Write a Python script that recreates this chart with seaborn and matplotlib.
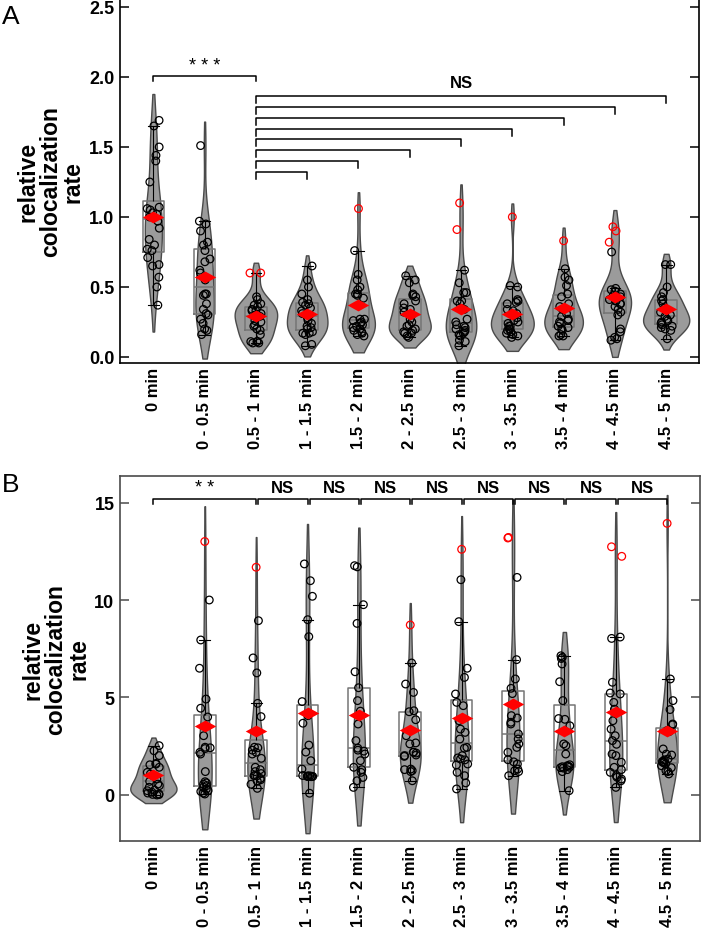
import numpy as np
import pandas as pd
import seaborn as sns
import matplotlib.pyplot as plt

cats = ['0 min', '0 - 0.5 min', '0.5 - 1 min', '1 - 1.5 min', '1.5 - 2 min',
        '2 - 2.5 min', '2.5 - 3 min', '3 - 3.5 min', '3.5 - 4 min',
        '4 - 4.5 min', '4.5 - 5 min']

# panel A: black circles per interval, red circles (flagged points), red diamonds (means)
a_black = [
    [1.69, 1.65, 1.50, 1.44, 1.40, 1.25, 1.07, 1.06, 1.05, 1.03, 1.02, 1.00, 0.97, 0.92,
     0.84, 0.80, 0.77, 0.76, 0.71, 0.66, 0.65, 0.57, 0.50, 0.37],
    [1.51, 0.97, 0.95, 0.90, 0.82, 0.80, 0.76, 0.70, 0.68, 0.62, 0.60, 0.55, 0.45, 0.45,
     0.44, 0.38, 0.34, 0.31, 0.30, 0.27, 0.24, 0.20, 0.19, 0.16],
    [0.43, 0.41, 0.38, 0.37, 0.36, 0.34, 0.33, 0.33, 0.31, 0.30, 0.29, 0.26, 0.25, 0.23,
     0.22, 0.20, 0.19, 0.16, 0.11, 0.11, 0.11, 0.10, 0.10],
    [0.65, 0.55, 0.50, 0.45, 0.41, 0.39, 0.38, 0.37, 0.35, 0.33, 0.31, 0.30, 0.28, 0.26,
     0.24, 0.22, 0.21, 0.20, 0.18, 0.17, 0.17, 0.16, 0.09, 0.08],
    [0.76, 0.59, 0.55, 0.50, 0.48, 0.45, 0.45, 0.44, 0.42, 0.27, 0.27, 0.26, 0.25, 0.24,
     0.23, 0.22, 0.21, 0.20, 0.19, 0.18, 0.17, 0.16, 0.15],
    [0.58, 0.55, 0.53, 0.45, 0.44, 0.43, 0.40, 0.38, 0.35, 0.34, 0.32, 0.30, 0.27, 0.25,
     0.23, 0.22, 0.20, 0.19, 0.18, 0.17, 0.17, 0.15, 0.14],
    [0.62, 0.53, 0.46, 0.46, 0.40, 0.40, 0.38, 0.34, 0.27, 0.25, 0.23, 0.22, 0.21, 0.20,
     0.19, 0.18, 0.17, 0.16, 0.15, 0.12, 0.11, 0.08],
    [0.51, 0.50, 0.41, 0.40, 0.39, 0.38, 0.34, 0.33, 0.31, 0.28, 0.26, 0.25, 0.24, 0.22,
     0.22, 0.20, 0.20, 0.19, 0.18, 0.17, 0.16, 0.15, 0.14],
    [0.63, 0.57, 0.55, 0.51, 0.45, 0.43, 0.38, 0.36, 0.34, 0.31, 0.29, 0.27, 0.26, 0.25,
     0.24, 0.22, 0.21, 0.20, 0.19, 0.16, 0.15, 0.15],
    [0.75, 0.49, 0.48, 0.47, 0.45, 0.44, 0.43, 0.41, 0.40, 0.40, 0.38, 0.38, 0.36, 0.34,
     0.32, 0.30, 0.20, 0.18, 0.14, 0.13, 0.12],
    [0.66, 0.66, 0.50, 0.46, 0.43, 0.41, 0.40, 0.38, 0.35, 0.32, 0.30, 0.29, 0.27, 0.26,
     0.25, 0.24, 0.23, 0.22, 0.21, 0.20, 0.19, 0.13],
]
a_red = [[], [], [0.60, 0.60], [], [1.06], [], [1.10, 0.91], [1.00], [0.83],
         [0.93, 0.90, 0.82], []]
a_mean = [1.00, 0.57, 0.29, 0.31, 0.37, 0.31, 0.34, 0.31, 0.35, 0.43, 0.34]

# panel B
b_black = [
    [2.53, 2.27, 2.02, 1.62, 1.58, 1.55, 1.42, 1.16, 1.08, 1.00, 0.82, 0.70, 0.56, 0.48,
     0.40, 0.25, 0.22, 0.14, 0.10, 0.05, 0.03, 0.02, 0.00],
    [10.0, 7.95, 6.50, 4.92, 4.45, 4.00, 3.04, 2.45, 2.42, 2.38, 2.19, 2.10, 1.20, 0.68,
     0.62, 0.55, 0.48, 0.40, 0.30, 0.22, 0.18, 0.10, 0.05],
    [8.94, 7.03, 6.26, 4.70, 4.02, 2.45, 2.42, 2.30, 2.19, 2.10, 1.88, 1.42, 1.30, 1.20,
     1.10, 1.00, 0.99, 0.98, 0.85, 0.78, 0.70, 0.55, 0.34],
    [11.85, 10.99, 10.19, 8.99, 8.12, 4.79, 4.07, 3.68, 2.56, 2.20, 1.76, 1.33, 1.00,
     0.98, 0.97, 0.96, 0.96, 0.95, 0.94, 0.97, 0.95, 0.09],
    [11.76, 11.70, 9.76, 8.80, 6.32, 5.50, 4.84, 4.30, 3.64, 2.79, 2.40, 2.30, 2.25,
     2.10, 1.76, 1.42, 1.30, 1.16, 0.90, 0.73, 0.39],
    [6.77, 5.69, 5.26, 4.32, 4.27, 3.86, 3.04, 2.67, 2.62, 2.20, 2.19, 2.15, 2.05, 2.02,
     1.98, 1.33, 1.30, 1.25, 1.20, 0.73],
    [11.04, 8.89, 6.50, 6.03, 5.18, 4.75, 4.58, 3.81, 3.38, 3.21, 2.87, 2.44, 2.40, 2.02,
     1.90, 1.85, 1.80, 1.59, 1.54, 1.16, 0.99, 0.62, 0.31],
    [11.16, 6.94, 5.95, 5.47, 5.20, 4.07, 3.95, 3.73, 3.64, 3.13, 2.87, 2.62, 2.44, 2.19,
     1.81, 1.70, 1.59, 1.33, 1.25, 1.20, 0.99],
    [7.14, 7.06, 7.00, 6.72, 5.81, 4.84, 3.92, 3.88, 3.55, 2.62, 2.53, 2.10, 1.55, 1.50,
     1.48, 1.45, 1.42, 1.40, 1.38, 1.30, 1.20, 0.22],
    [8.10, 8.03, 5.78, 5.23, 5.18, 4.75, 4.40, 3.81, 3.38, 3.04, 2.79, 2.60, 2.10, 2.02,
     1.68, 1.42, 1.30, 1.16, 0.99, 0.91, 0.82, 0.73, 0.39],
    [5.95, 4.84, 4.38, 3.64, 3.60, 3.30, 3.25, 2.36, 2.10, 2.05, 1.85, 1.80, 1.72, 1.70,
     1.68, 1.65, 1.60, 1.50, 1.40, 1.25, 1.20, 1.08],
]
b_red = [[], [13.0], [11.68], [], [], [8.72], [12.6], [13.21, 13.18], [],
         [12.73, 12.24], [13.93]]
b_mean = [1.00, 3.52, 3.30, 4.20, 4.10, 3.33, 3.96, 4.67, 3.26, 4.27, 3.26]

a_yticks = [0.0, 0.5, 1.0, 1.5, 2.0, 2.5]
b_yticks = [0, 5, 10, 15]

plt.rcParams['font.family'] = ['Liberation Sans', 'DejaVu Sans']


def to_frame(black, red):
    rows = []
    for c, vals in zip(cats, black):
        rows += [(c, v, False) for v in vals]
    for c, vals in zip(cats, red):
        rows += [(c, v, True) for v in vals]
    return pd.DataFrame(rows, columns=['interval', 'rate', 'flag'])


def draw_panel(ax, black, red, means, spine_col):
    df = to_frame(black, red)
    sns.violinplot(data=df, x='interval', y='rate', order=cats, inner=None, cut=1,
                   density_norm='area', width=0.9, color='#9b9b9b', saturation=1,
                   linecolor='#4a4a4a', linewidth=1.0, ax=ax)
    sns.boxplot(data=df, x='interval', y='rate', order=cats, fill=False, width=0.42,
                showfliers=False, color='#757575', linewidth=1.1,
                whiskerprops={'color': 'k', 'linewidth': 0.8},
                capprops={'color': 'k', 'linewidth': 0.8}, ax=ax)
    n0 = len(ax.collections)
    np.random.seed(4)
    sns.stripplot(data=df[~df.flag], x='interval', y='rate', order=cats, color='black',
                  jitter=0.12, size=5.5, ax=ax)
    sns.stripplot(data=df[df.flag], x='interval', y='rate', order=cats, color='red',
                  jitter=0.12, size=5.5, ax=ax)
    # open circles
    for coll in ax.collections[n0:]:
        fc = coll.get_facecolor()
        coll.set_facecolor('none')
        coll.set_edgecolor(fc)
        coll.set_linewidth(0.9)
    diamond = [(-1, 0), (0, 0.55), (1, 0), (0, -0.55), (-1, 0)]
    ax.scatter(np.arange(len(cats)), means, marker=diamond, s=240, color='red',
               linewidths=0, zorder=6)
    ax.set_xlim(-0.65, 10.64)
    ax.set_xlabel('')
    ax.set_ylabel('relative\ncolocalization\nrate', fontsize=16.5, fontweight='bold',
                  linespacing=0.98, labelpad=3)
    ax.tick_params(axis='x', length=0, pad=3)
    for lbl in ax.get_xticklabels():
        lbl.set_rotation(90)
        lbl.set_fontsize(12)
        lbl.set_fontweight('bold')
    ax.tick_params(axis='y', direction='in', length=6.5, width=1.1, left=True,
                   right=True, labelsize=13, pad=4, color=spine_col)
    for s in ax.spines.values():
        s.set_color(spine_col)
        s.set_linewidth(1.2)


def bracket(ax, x0, x1, y, leg, text=None, ty=None, size=12, weight='bold'):
    ax.plot([x0, x0, x1, x1], [y - leg, y, y, y - leg], color='k', lw=1.1,
            clip_on=False, zorder=7)
    if text:
        ax.text((x0 + x1) / 2, ty, text, ha='center', va='center', fontsize=size,
                fontweight=weight)


fig = plt.figure(figsize=(7.01, 9.29), dpi=100)
axA = fig.add_axes([120 / 701, 1 - 364 / 929, 579 / 701, 364 / 929])
axB = fig.add_axes([120 / 701, 1 - 842 / 929, 580 / 701, 365 / 929])

draw_panel(axA, a_black, a_red, a_mean, 'black')
axA.set_ylim(-0.043, 2.557)
axA.set_yticks(a_yticks, [f'{t:.1f}' for t in a_yticks])
for lbl in axA.get_yticklabels():
    lbl.set_fontweight('bold')

bracket(axA, 0, 2, 2.005, 0.035, '* * *', 2.085, size=13, weight='normal')
for k in range(3, 11):
    y = 1.324 + 0.0768 * (k - 3)
    bracket(axA, 2, k, y, 0.05)
axA.text(6, 1.957, 'NS', ha='center', va='center', fontsize=12, fontweight='bold')

draw_panel(axB, b_black, b_red, b_mean, '#4a4a4a')
axB.set_ylim(-2.36, 16.36)
axB.set_yticks(b_yticks, [str(t) for t in b_yticks])
for lbl in axB.get_yticklabels():
    lbl.set_fontweight('bold')

b_pairs = [(0, 2, '* *')] + [(i, i + 1, 'NS') for i in range(2, 10)]
for i, j, t in b_pairs:
    x0 = i if i == 0 else i + 0.04
    bracket(axB, x0, j, 15.2, 0.27, t, 15.75, size=13 if t == '* *' else 12,
            weight='normal' if t == '* *' else 'bold')

fig.text(0.003, 0.995, 'A', fontsize=19, va='top', ha='left')
fig.text(0.003, 0.491, 'B', fontsize=19, va='top', ha='left')

fig.savefig('out.png', dpi=100)
